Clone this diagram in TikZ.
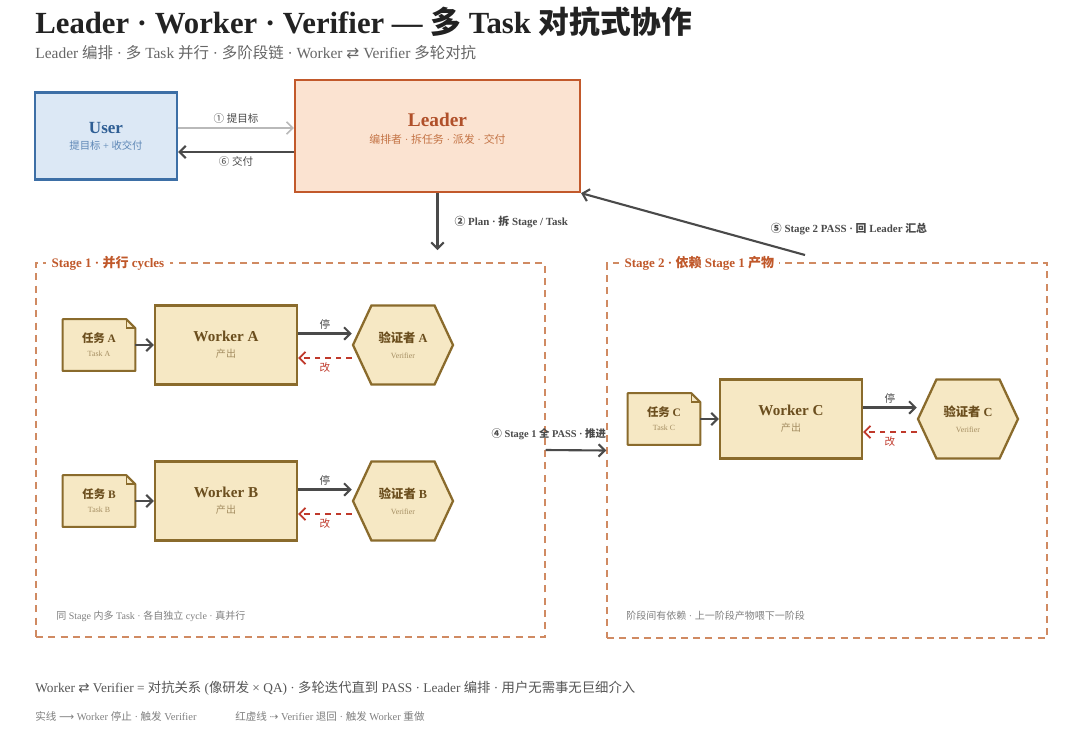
\documentclass[tikz,border=0pt]{standalone}
\usepackage{fontspec}
\setmainfont{Liberation Serif}
\newfontfamily\cjk{Noto Sans CJK SC}
\newfontfamily\dvsans{DejaVu Sans}
\usepackage{tikz}
\usetikzlibrary{shapes.symbols,backgrounds,arrows.meta}

\newcommand\zh[1]{{\cjk #1}}
\newcommand\fsz[2]{\fontsize{#1}{#2}\selectfont}

\definecolor{titlegray}{HTML}{222222}
\definecolor{subgray}{HTML}{666666}
\definecolor{bodygray}{HTML}{555555}
\definecolor{notegray}{HTML}{808080}
\definecolor{userfill}{HTML}{DCE8F5}
\definecolor{userline}{HTML}{3D6FA6}
\definecolor{usertext}{HTML}{2E5E94}
\definecolor{usersub}{HTML}{5C86B5}
\definecolor{leadfill}{HTML}{FBE3D1}
\definecolor{leadline}{HTML}{C2592B}
\definecolor{leadtext}{HTML}{B0502A}
\definecolor{leadsub}{HTML}{C47446}
\definecolor{stageline}{HTML}{D08A62}
\definecolor{stagetext}{HTML}{C0582A}
\definecolor{cardfill}{HTML}{F6E8C4}
\definecolor{cardline}{HTML}{8A6B2C}
\definecolor{cardtext}{HTML}{6B4E1E}
\definecolor{cardsub}{HTML}{A58E62}
\definecolor{arrowgray}{HTML}{4A4A4A}
\definecolor{backred}{HTML}{C0392B}

\begin{document}
\begin{tikzpicture}[x=0.02cm, y=-0.02cm, >={Straight Barb[length=3.5pt,width=7pt]},
  txt/.style={anchor=west, inner sep=0pt},
  box/.style={draw, line width=1.3pt, align=center, inner sep=1pt, font=\fsz{6}{7}},
  user/.style={box, draw=userline, fill=userfill, minimum width=2.84cm, minimum height=1.74cm},
  lead/.style={box, draw=leadline, fill=leadfill, minimum width=5.7cm, minimum height=2.24cm},
  stage/.style={draw=stageline, line width=0.9pt, dash pattern=on 4pt off 3pt},
  card/.style={box, draw=cardline, fill=cardfill, text=cardtext},
  work/.style={card, minimum width=2.84cm, minimum height=1.58cm},
  ver/.style={card, shape=signal, signal to=west and east, signal pointer angle=130,
    minimum width=2cm, minimum height=1.58cm},
  task/.style={align=center, text=cardtext, font=\fsz{6}{7}, minimum width=1.44cm,
    minimum height=1.02cm, inner sep=1pt},
  note/.style={draw=cardline, fill=cardfill, line width=1.2pt, line join=round},
  flow/.style={->, draw=arrowgray, line width=1.2pt},
  faint/.style={->, draw=gray!55, line width=0.9pt},
  back/.style={->, draw=backred, dashed, line width=1pt},
  lbl/.style={font=\bfseries\fsz{6.2}{7}, text=arrowgray, inner sep=2pt}]
\useasboundingbox (0,0) rectangle (1080,731);

% title
\node[txt, font=\bfseries\fsz{17.5}{20}, text=titlegray] (title) at (35,22)
  {Leader · Worker · Verifier — \zh{多} Task \zh{对抗式协作}};
\node[txt, font=\fsz{8.8}{10}, text=subgray] (subtitle) at (35,53)
  {Leader \zh{编排} · \zh{多} Task \zh{并行} · \zh{多阶段链} · Worker {\dvsans ⇄} Verifier \zh{多轮对抗}};

% user and leader
\node[user] (user) at (106,136) {{\bfseries\fsz{9.7}{12}\color{usertext}User}\\[2pt]
  {\fsz{5.9}{7}\color{usersub}\zh{提目标} + \zh{收交付}}};
\node[lead] (lead) at (437.5,136) {{\bfseries\fsz{11}{13}\color{leadtext}Leader}\\[3pt]
  {\fsz{6.2}{7}\color{leadsub}\zh{编排者} · \zh{拆任务} · \zh{派发} · \zh{交付}}\\[2pt]\mbox{}};

\path ([yshift=.16cm]user.east) edge[faint] node[above, lbl, font=\fsz{6}{7}] {\zh{①} \zh{提目标}} ([yshift=.16cm]lead.west)
  ([yshift=-.32cm]lead.west) edge[flow] node[below, lbl, font=\fsz{6}{7}] {\zh{⑥} \zh{交付}} ([yshift=-.32cm]user.east);

% stages
\node[stage, minimum width=10.18cm, minimum height=7.48cm] (st1) at (290.5,450) {};
\node[stage, minimum width=8.8cm, minimum height=7.5cm] (st2) at (827,450.5) {};
\node[txt, fill=white, inner xsep=3pt, font=\bfseries\fsz{7.4}{9}, text=stagetext] (st1lbl) at (46,263)
  {Stage 1 · \zh{并行} cycles};
\node[txt, fill=white, inner xsep=3pt, font=\bfseries\fsz{7.4}{9}, text=stagetext] (st2lbl) at (619,263)
  {Stage 2 · \zh{依赖} Stage 1 \zh{产物}};
\node[txt, font=\fsz{5.7}{7}, text=notegray] (st1note) at (56,616)
  {\zh{同} Stage \zh{内多} Task · \zh{各自独立} cycle · \zh{真并行}};
\node[txt, font=\fsz{5.7}{7}, text=notegray] (st2note) at (626,616)
  {\zh{阶段间有依赖} · \zh{上一阶段产物喂下一阶段}};

\coordinate (plan) at (437.5,250);
\coordinate (s5) at (805,255);
\path (lead.south) edge[flow] node[right, lbl, xshift=.25cm] {\zh{②} Plan · \zh{拆} Stage / Task} (plan)
  (s5) edge[flow] (lead.south east)
  (st1.east) edge[flow] node[pos=0.05, above, lbl, yshift=3pt, font=\bfseries\fsz{5.9}{7}] {\zh{④} Stage 1 \zh{全} PASS · \zh{推进}} (st2.west);
\node[lbl] (lbl5) at (849,229) {\zh{⑤} Stage 2 PASS · \zh{回} Leader \zh{汇总}};

% worker / verifier cycles
\foreach \t/\x/\y in {A/99/345,B/99/501,C/664/419}{
  \node[task] (task\t) at (\x,\y) {{\bfseries\fsz{6.5}{8}\zh{任务} \t}\\[1pt]{\fsz{4.5}{5}\color{cardsub}Task \t}};
  \node[work] (work\t) at (\x+127,\y) {{\bfseries\fsz{8.6}{10}Worker \t}\\[2pt]{\fsz{5.7}{7}\color{cardsub}\zh{产出}}};
  \node[ver] (ver\t) at (\x+304,\y) {{\bfseries\fsz{7}{8}\zh{验证者} \t}\\[2pt]{\fsz{4.5}{5}\color{cardsub}Verifier}};
  \path (task\t) edge[flow] (work\t)
    ([yshift=.23cm]work\t.east) edge[flow] node[above, lbl, font=\fsz{6}{7}] {\zh{停}} ([yshift=.23cm]ver\t.west)
    ([yshift=-.26cm]ver\t.west) edge[back] node[below, lbl, font=\fsz{6}{7}, text=backred] {\zh{改}} ([yshift=-.26cm]work\t.east);
}

\begin{scope}[on background layer]
  \fill[white] (0,0) rectangle (1080,731);
  \foreach \t in {A,B,C}
    \draw[note] (task\t.south west) -- (task\t.north west) -- ([xshift=-.18cm]task\t.north east)
      -- ([yshift=-.18cm]task\t.north east) -- (task\t.south east) -- cycle;
\end{scope}
\foreach \t in {A,B,C}
  \draw[cardline, line width=.8pt] ([xshift=-.18cm]task\t.north east) |- ([yshift=-.18cm]task\t.north east);

% footer
\node[txt, font=\fsz{7.6}{9}, text=bodygray] (summary) at (35,688)
  {Worker {\dvsans ⇄} Verifier = \zh{对抗关系} (\zh{像研发} × QA) · \zh{多轮迭代直到} PASS · Leader \zh{编排} · \zh{用户无需事无巨细介入}};
\node[txt, font=\fsz{6}{7}, text=notegray] (legsolid) at (35,716)
  {\zh{实线} {\dvsans ⟶} Worker \zh{停止} · \zh{触发} Verifier};
\node[txt, font=\fsz{6}{7}, text=notegray] (legdash) at (235,716)
  {\zh{红虚线} {\dvsans ⇢} Verifier \zh{退回} · \zh{触发} Worker \zh{重做}};
\end{tikzpicture}
\end{document}
